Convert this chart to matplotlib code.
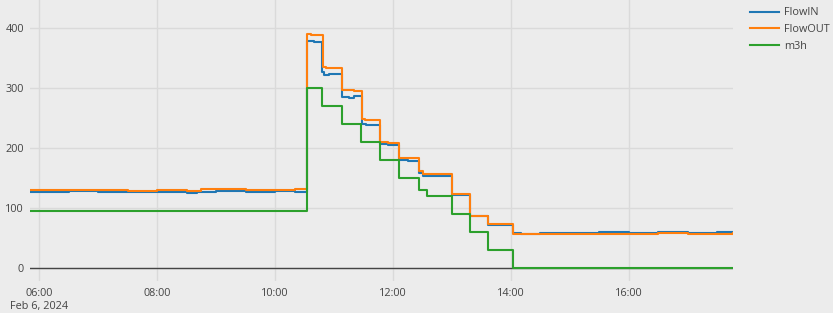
import matplotlib
matplotlib.use("Agg")
import matplotlib.pyplot as plt
import matplotlib.dates as mdates
import matplotlib.transforms as mtrans
import pandas as pd

DAY = "2024-02-06"

flowin_t = ["05:50", "06:30", "07:00", "07:40", "08:00", "08:30", "08:40", "09:00", "09:30", "10:00", "10:20",
            "10:32", "10:40", "10:48", "10:50", "10:55", "11:08", "11:15", "11:20", "11:28", "11:32",
            "11:47", "11:55", "12:06", "12:15", "12:26", "12:31", "12:40", "13:00", "13:18", "13:37", "13:50",
            "14:02", "14:10", "14:30", "15:00", "15:30", "16:00", "16:30", "17:00", "17:30", "17:46"]
flowin_v = [127, 128, 127, 126, 127, 125, 127, 128, 127, 128, 127,
            378, 377, 327, 322, 323, 285, 284, 286, 240, 238,
            206, 205, 180, 179, 158, 154, 153, 122, 86, 72, 71,
            58, 57, 58, 59, 60, 59, 60, 59, 60, 60]

flowout_t = ["05:50", "06:30", "07:30", "08:00", "08:30", "08:45", "09:30", "10:00", "10:20",
             "10:32", "10:36", "10:42", "10:49", "10:52", "10:58", "11:08", "11:20", "11:28", "11:31",
             "11:47", "11:55", "12:06", "12:26", "12:30", "12:40", "13:00", "13:06", "13:18", "13:37",
             "14:02", "14:20", "14:30", "15:00", "16:00", "16:30", "17:00", "17:46"]
flowout_v = [130, 130, 129, 130, 128, 131, 130, 130, 131,
             390, 388, 389, 335, 333, 334, 296, 295, 248, 247,
             210, 209, 183, 161, 157, 156, 124, 123, 87, 73,
             56, 57, 56, 57, 57, 58, 57, 58]

m3h_t = ["05:50", "10:32", "10:48", "11:08", "11:27", "11:47", "12:06", "12:26", "12:35",
         "13:00", "13:18", "13:37", "14:02", "17:46"]
m3h_v = [95, 300, 270, 240, 210, 180, 150, 130, 120, 90, 60, 30, 0, 0]

y_ticks = [0, 100, 200, 300, 400]
x_tick_hours = ["06:00", "08:00", "10:00", "12:00", "14:00", "16:00"]
date_label = "Feb 6, 2024"


def to_dt(ts):
    return pd.to_datetime([f"{DAY} {t}" for t in ts])


plt.rcParams['font.family'] = ['Open Sans', 'DejaVu Sans']
BG = "#ececec"
TXT = "#444444"
FS = 7.8

fig = plt.figure(figsize=(8.33, 3.13), dpi=100, facecolor=BG)
ax = fig.add_axes([29.5 / 833, (313 - 281) / 313, (733 - 29.5) / 833, 281 / 313])
ax.set_facecolor(BG)

series = [("FlowIN", flowin_t, flowin_v, "#1f77b4"),
          ("FlowOUT", flowout_t, flowout_v, "#ff7f0e"),
          ("m3h", m3h_t, m3h_v, "#2ca02c")]
handles = []
for name, ts, vs, col in series:
    h, = ax.plot(to_dt(ts), vs, drawstyle="steps-post", color=col, lw=1.5, label=name, zorder=3)
    handles.append(h)

start = to_dt(["05:50"])[0]
end = to_dt(["17:46"])[0]
ax.set_xlim(start, end)
ax.set_ylim(-21.7, 446.7)

ax.set_yticks(y_ticks)
ax.set_yticklabels([str(v) for v in y_ticks])
ax.set_xticks(to_dt(x_tick_hours))
ax.set_xticklabels(x_tick_hours)

ax.grid(True, color="#dadada", lw=1, zorder=0)
ax.set_axisbelow(True)
ax.axhline(0, color=TXT, lw=1, zorder=2)
for s in ax.spines.values():
    s.set_visible(False)
ax.tick_params(axis="both", length=0, colors=TXT, labelsize=FS)
ax.tick_params(axis="x", pad=5)
ax.tick_params(axis="y", pad=4)

trans = mtrans.blended_transform_factory(ax.transData, fig.transFigure)
ax.text(mdates.date2num(to_dt(["06:00"])[0]), 1 - 307 / 313, date_label, transform=trans,
        ha="center", va="center", fontsize=FS, color=TXT)

leg = fig.legend(handles=handles, loc="upper left", bbox_to_anchor=(746 / 833, 1 - 3 / 313),
                 frameon=False, fontsize=FS, handlelength=2.6, handletextpad=0.5,
                 labelspacing=0.55, borderaxespad=0)
for t in leg.get_texts():
    t.set_color(TXT)

fig.savefig("out.png", dpi=100, facecolor=BG)
